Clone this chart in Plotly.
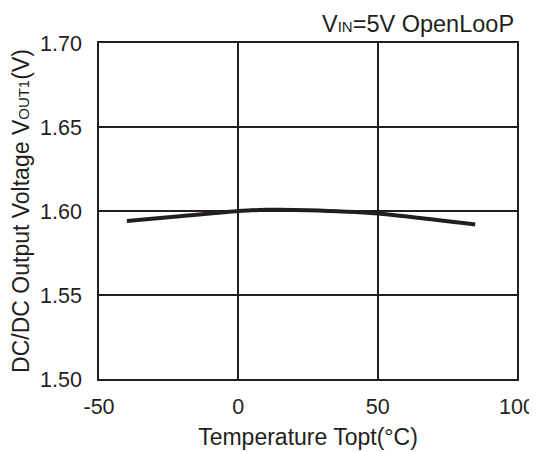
import plotly.graph_objects as go

temps = [-40, -20, 0, 10, 25, 50, 85]
vout = [1.594, 1.597, 1.600, 1.6007, 1.6005, 1.5985, 1.592]

x_ticks = [-50, 0, 50, 100]
y_ticks = [1.50, 1.55, 1.60, 1.65, 1.70]
y_ticklabels = ["1.50", "1.55", "1.60", "1.65", "1.70"]

ink = "#231f20"
font = dict(family="Liberation Sans, Arial, sans-serif", size=22, color=ink)

fig = go.Figure()
fig.add_trace(go.Scatter(x=temps, y=vout, mode="lines", line=dict(color=ink, width=4, shape="spline", smoothing=0.6),
                         showlegend=False, hoverinfo="skip"))

# page body has an 8px margin, so the figure is sized and offset to fit the 537x452 window
fig.update_layout(
    width=529, height=444,
    margin=dict(l=91, r=20, t=35, b=73),
    paper_bgcolor="white", plot_bgcolor="white",
    font=font,
    xaxis=dict(range=[-50, 100], tickvals=x_ticks, ticktext=[str(v) for v in x_ticks],
               showgrid=True, gridcolor=ink, gridwidth=1.5, showline=True, linecolor=ink, linewidth=1.5,
               mirror=True, ticks="", zeroline=False, tickfont=dict(size=21.5), ticklabelstandoff=7,
               title=dict(text="Temperature Topt(°C)", font=dict(size=23), standoff=11), automargin=False),
    yaxis=dict(range=[1.50, 1.70], tickvals=y_ticks, ticktext=y_ticklabels,
               showgrid=True, gridcolor=ink, gridwidth=1.5, showline=True, linecolor=ink, linewidth=1.5,
               mirror=True, ticks="", zeroline=False, tickfont=dict(size=21.5), ticklabelstandoff=11,
               title=dict(text="DC/DC Output Voltage V<span style=\"font-size:15px\">OUT1</span>(V)",
                          font=dict(size=23), standoff=8), automargin=False),
    annotations=[dict(text="V<span style=\"font-size:15px\">IN</span>=5V OpenLooP", xref="paper", yref="paper",
                      x=1.0, y=1.0, xanchor="right", yanchor="bottom", yshift=4, xshift=-1, showarrow=False,
                      font=dict(size=23.5))],
)

fig.write_html("out.html")
